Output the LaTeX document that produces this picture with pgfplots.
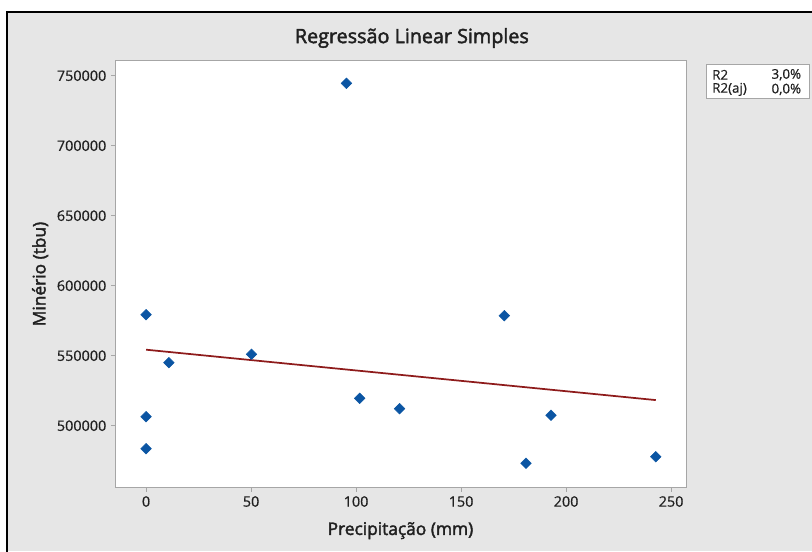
\documentclass[border=0pt]{standalone}
\usepackage{pgfplots}
\pgfplotsset{compat=1.18}
\usepackage{fontspec}
\setmainfont{Open Sans}
\newfontfamily\semib{Open Sans}[FakeBold=2.2]
\newfontfamily\tickf{Open Sans}[FakeBold=0.6]
\definecolor{bgc}{HTML}{E6E6E6}
\definecolor{mblue}{HTML}{0B55A3}
\definecolor{mred}{HTML}{8E1B1B}
\definecolor{txt}{HTML}{202020}
\definecolor{frame}{HTML}{A6A6A6}
\pgfplotstableread{
x y
0 579290
0 506430
0 483570
10.85 545000
50.2 551000
95.4 744570
101.7 519570
120.7 512140
170.6 578570
192.8 507430
180.9 473140
242.7 477860
}\datatable
\pgfplotstableread{
x y
0 554290
242.7 518300
}\fittable
\begin{document}
\begin{tikzpicture}
\useasboundingbox (0,0) rectangle (609pt,413.25pt);
\fill[white] (0,0) rectangle (609pt,413.25pt);
\fill[bgc] (5.25pt,0) rectangle (609pt,404.25pt);
\draw[black, line width=1.9pt] (5.25pt,-2pt) -- (5.25pt,404.25pt) -- (612pt,404.25pt);
\begin{axis}[
  at={(86.25pt,47.625pt)}, anchor=south west,
  scale only axis, width=428.25pt, height=320.25pt,
  xmin=-14.8, xmax=257.1, ymin=455857, ymax=760860,
  xtick={0,50,100,150,200,250},
  xticklabels={0,50,100,150,200,250},
  ytick={500000,550000,600000,650000,700000,750000},
  yticklabels={500000,550000,600000,650000,700000,750000},
  scaled y ticks=false,
  tick label style={font=\tickf\fontsize{10.8}{12}\selectfont, text=txt},
  axis background/.style={fill=white},
  axis line style={draw=frame, line width=0.6pt},
  tick style={draw=frame, line width=0.6pt},
  tick align=outside, major tick length=3pt,
  xtick pos=bottom, ytick pos=left,
  title={Regressão Linear Simples},
  title style={font=\semib\fontsize{14.8}{17}\selectfont, text=txt, at={(axis description cs:0.52,1.034)}, anchor=center, yshift=0pt},
  xlabel={Precipitação (mm)},
  xlabel style={font=\semib\fontsize{13}{15}\selectfont, text=txt, at={(axis description cs:0.5,-0.101)}, anchor=center},
  ylabel={Minério (tbu)},
  ylabel style={font=\semib\fontsize{13}{15}\selectfont, text=txt, at={(axis description cs:-0.131,0.5)}, anchor=center},
  clip=false,
]
\addplot[mred, line width=1.3pt] table[x=x,y=y] {\fittable};
\addplot[only marks, mark=square*, mark size=2.8pt, mark options={fill=mblue, draw=mblue, rotate=45, rounded corners=0.6pt}] table[x=x,y=y] {\datatable};
\end{axis}
\draw[frame, fill=white, line width=0.6pt] (529.5pt,339.5pt) rectangle (607pt,365.25pt);
\node[anchor=west, inner sep=0pt, font=\tickf\fontsize{10}{12}\selectfont, text=txt] at (534pt,357.2pt) {R2};
\node[anchor=east, inner sep=0pt, font=\tickf\fontsize{10}{12}\selectfont, text=txt] at (601pt,357.2pt) {3,0\%};
\node[anchor=west, inner sep=0pt, font=\tickf\fontsize{10}{12}\selectfont, text=txt] at (534pt,346.2pt) {R2(aj)};
\node[anchor=east, inner sep=0pt, font=\tickf\fontsize{10}{12}\selectfont, text=txt] at (601pt,346.2pt) {0,0\%};
\end{tikzpicture}
\end{document}
